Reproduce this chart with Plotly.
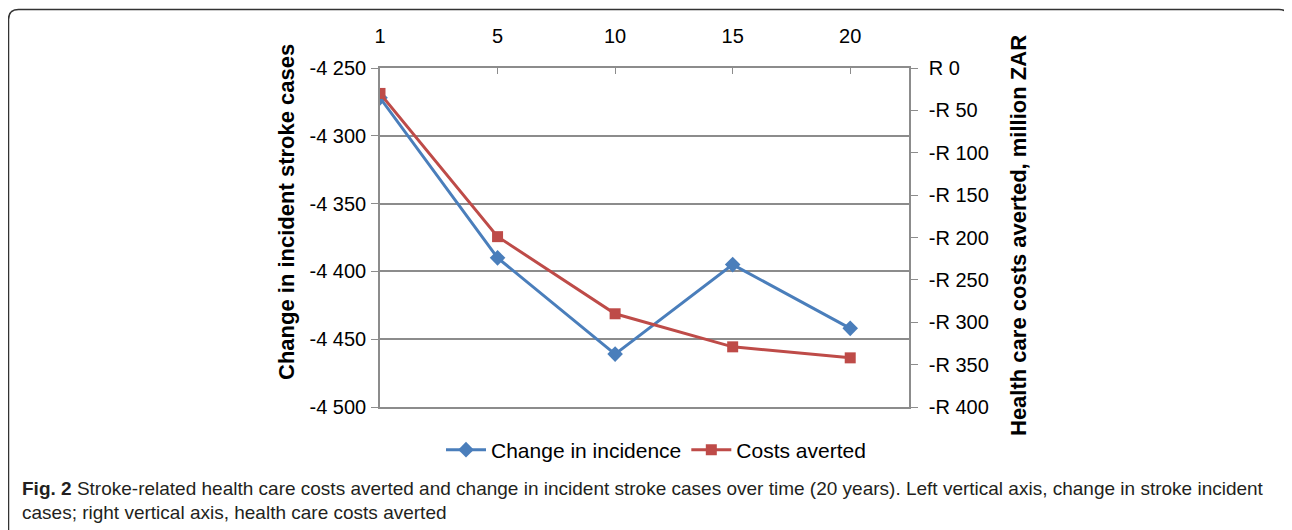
import plotly.graph_objects as go

# page body has an 8px margin; the figure fills the rest of the 1292x530 window
OFF = 8
W, H = 1292 - OFF, 530 - OFF

years = ["1", "5", "10", "15", "20"]
incidence = [-4272, -4390, -4461, -4395, -4442]
costs = [-30, -199, -290, -329, -342]

left_ticks = [-4250, -4300, -4350, -4400, -4450, -4500]
left_text = ["-4 250", "-4 300", "-4 350", "-4 400", "-4 450", "-4 500"]
right_ticks = [0, -50, -100, -150, -200, -250, -300, -350, -400]
right_text = ["R 0", "-R 50", "-R 100", "-R 150", "-R 200", "-R 250", "-R 300", "-R 350", "-R 400"]

BLUE = "#4A7EBB"
RED = "#BE4B48"
GRID = "#8c8c8c"

def px(x):
    return (x - OFF) / W

def py(y):
    return 1 - (y - OFF) / H

x0, x1 = 380, 909
y0, y1 = 68, 407

fig = go.Figure()
fig.add_trace(go.Scatter(
    x=list(range(len(years))), y=incidence, name="Change in incidence",
    mode="lines+markers", line=dict(color=BLUE, width=3),
    marker=dict(symbol="diamond", size=12, color=BLUE), yaxis="y"))
fig.add_trace(go.Scatter(
    x=list(range(len(years))), y=costs, name="Costs averted",
    mode="lines+markers", line=dict(color=RED, width=3),
    marker=dict(symbol="square", size=11, color=RED), yaxis="y2"))

font_tick = dict(family="Liberation Sans, Arial, sans-serif", size=20, color="#000")

fig.update_layout(
    width=W, height=H,
    margin=dict(l=0, r=0, t=0, b=0, autoexpand=False),
    paper_bgcolor="white", plot_bgcolor="white",
    showlegend=True,
    legend=dict(orientation="h", x=px(656), xanchor="center", y=py(450), yanchor="middle",
                font=dict(family="Liberation Sans, Arial, sans-serif", size=21, color="#000"),
                itemwidth=40, tracegroupgap=0),
    xaxis=dict(domain=[px(x0), px(x1)], side="top", range=[0, 4.5], automargin=False,
               tickmode="array", tickvals=list(range(len(years))), ticktext=years,
               ticks="inside", ticklen=6, tickcolor=GRID, showline=True, linecolor=GRID,
               linewidth=1.5, mirror=True, showgrid=False, zeroline=False,
               tickfont=font_tick, ticklabelstandoff=15),
    yaxis=dict(domain=[py(y1), py(y0)], range=[-4500, -4250], automargin=False,
               tickmode="array", tickvals=left_ticks, ticktext=left_text,
               ticks="outside", ticklen=7, tickcolor=GRID, showline=True, linecolor=GRID,
               linewidth=1.5, showgrid=True, gridcolor=GRID, gridwidth=1.5, zeroline=False,
               tickfont=font_tick, ticklabelstandoff=1),
    yaxis2=dict(overlaying="y", side="right", range=[-400, 0], automargin=False,
                tickmode="array", tickvals=right_ticks, ticktext=right_text,
                ticks="outside", ticklen=7, tickcolor=GRID, showline=True, linecolor=GRID,
                linewidth=1.5, showgrid=False, zeroline=False, tickfont=font_tick,
                ticklabelstandoff=7),
)

title_font = dict(family="Liberation Sans, Arial, sans-serif", size=22, color="#000")
fig.add_annotation(text="<b>Change in incident stroke cases</b>", x=px(287), y=py(212),
                   xref="paper", yref="paper", xanchor="center", yanchor="middle",
                   textangle=-90, showarrow=False, font=title_font)
fig.add_annotation(text="<b>Health care costs averted, million ZAR</b>", x=px(1018), y=py(236),
                   xref="paper", yref="paper", xanchor="center", yanchor="middle",
                   textangle=-90, showarrow=False, font=title_font)

cap_font = dict(family="Liberation Sans, Arial, sans-serif", size=19, color="#231f20")
fig.add_annotation(text="<b>Fig. 2</b> Stroke-related health care costs averted and change in incident stroke cases over time (20 years). Left vertical axis, change in stroke incident",
                   x=px(20), y=py(488), xref="paper", yref="paper", xanchor="left", yanchor="middle",
                   showarrow=False, font=cap_font)
fig.add_annotation(text="cases; right vertical axis, health care costs averted",
                   x=px(20), y=py(512), xref="paper", yref="paper", xanchor="left", yanchor="middle",
                   showarrow=False, font=cap_font)

# rounded border box
L, T, R, B, r = px(8.5), py(9.5), px(1289), py(560), 10
rx, ry = r / W, r / H
path = (f"M {L},{B} L {L},{T - ry} Q {L},{T} {L + rx},{T} "
        f"L {R - rx},{T} Q {R},{T} {R},{T - ry} L {R},{B}")
fig.add_shape(type="path", path=path, xref="paper", yref="paper",
              line=dict(color="#333", width=1.5))

fig.write_html("out.html")
